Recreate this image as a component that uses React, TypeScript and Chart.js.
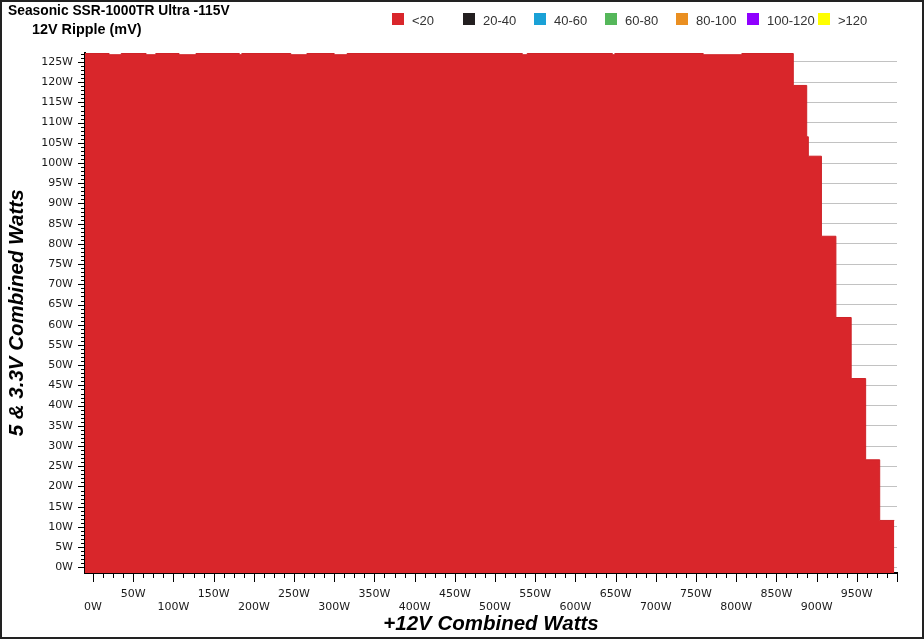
import React, { useEffect, useRef } from 'react';
import { Chart, registerables } from 'chart.js';

Chart.register(...registerables);

// +12V combined watts where each step of the 5 & 3.3V boundary begins
const WATTS_12V = [-10, 20, 35, 66, 78, 107, 128, 182, 185, 246, 266, 300, 316, 534, 540, 646, 649, 759, 807, 871, 887.7, 889.7, 906, 924, 943, 961, 978.5, 996.6];
// 5 & 3.3V combined watts (upper edge of the "<20 mV" region)
const WATTS_MINOR = [127.1, 126.8, 127.1, 126.8, 127.1, 126.8, 127.1, 126.8, 127.1, 126.8, 127.1, 126.8, 127.1, 126.8, 127.1, 126.8, 127.1, 126.8, 127.1, 119.2, 106.5, 101.7, 81.9, 61.8, 46.7, 26.6, 11.6, 11.6];

const LEGEND_LABELS = ['<20', '20-40', '40-60', '60-80', '80-100', '100-120', '>120'];
const LEGEND_COLORS = ['#d9262b', '#231f20', '#1aa1d6', '#55b75a', '#ea8f21', '#8f00ff', '#ffff00'];

const X_TICKS = [0, 50, 100, 150, 200, 250, 300, 350, 400, 450, 500, 550, 600, 650, 700, 750, 800, 850, 900, 950];
const X_RANGE = [-10, 1000];
const Y_RANGE = [-1.4, 127.3];

const TITLE = 'Seasonic SSR-1000TR Ultra -115V';
const SUBTITLE = '12V Ripple (mV)';

const SANS = '"Liberation Sans", Arial, sans-serif';
const TICK_FONT = '"DejaVu Sans", Verdana, sans-serif';

const frameAndTicks = {
  id: 'frameAndTicks',
  beforeDraw(chart: any) {
    const { ctx, width, height } = chart;
    ctx.save();
    ctx.fillStyle = '#ffffff';
    ctx.fillRect(0, 0, width, height);
    ctx.restore();
  },
  afterDraw(chart: any) {
    const { ctx, chartArea, scales, width, height } = chart;
    const xs = scales.x;
    const ys = scales.y;
    ctx.save();
    ctx.strokeStyle = '#000';
    ctx.lineWidth = 1;
    ctx.beginPath();
    for (let v = 0; v <= 1000.01; v += 12.5) {
      const px = Math.round(xs.getPixelForValue(v)) + 0.5;
      const major = Math.abs(v % 50) < 0.01;
      ctx.moveTo(px, chartArea.bottom);
      ctx.lineTo(px, chartArea.bottom + (major ? 9 : 5));
    }
    for (let v = 0; v <= 127; v++) {
      const py = Math.round(ys.getPixelForValue(v)) + 0.5;
      const major = v % 5 === 0;
      ctx.moveTo(chartArea.left - (major ? 7 : 4), py);
      ctx.lineTo(chartArea.left, py);
    }
    ctx.stroke();
    ctx.strokeStyle = '#222';
    ctx.lineWidth = 2;
    ctx.strokeRect(1, 1, width - 2, height - 2);
    ctx.restore();
  },
};

export default function App() {
  const canvasRef = useRef<HTMLCanvasElement | null>(null);

  useEffect(() => {
    const canvas = canvasRef.current;
    if (!canvas) return;
    const points = WATTS_12V.map((x, i) => ({ x, y: WATTS_MINOR[i] }));
    const chart = new Chart(canvas, {
      type: 'line',
      data: {
        datasets: [
          {
            label: LEGEND_LABELS[0],
            data: points,
            stepped: 'before',
            fill: 'start',
            backgroundColor: LEGEND_COLORS[0],
            borderColor: '#cf2227',
            borderWidth: 1,
            pointRadius: 0,
            pointHoverRadius: 0,
          },
        ],
      },
      options: {
        animation: false,
        responsive: false,
        devicePixelRatio: 1,
        events: [],
        layout: { padding: { top: 52.7, right: 27, bottom: 0, left: 0 } },
        plugins: {
          legend: { display: false },
          title: { display: false },
          tooltip: { enabled: false },
        },
        scales: {
          x: {
            type: 'linear',
            min: X_RANGE[0],
            max: X_RANGE[1],
            afterBuildTicks: (scale: any) => {
              scale.ticks = X_TICKS.map((v) => ({ value: v }));
            },
            afterFit: (scale: any) => {
              scale.height = 66;
            },
            grid: { display: false, drawTicks: false, tickLength: 0 },
            border: { display: true, color: '#000', width: 2 },
            ticks: {
              autoSkip: false,
              maxRotation: 0,
              minRotation: 0,
              padding: 14,
              color: '#1a1a1a',
              font: { family: TICK_FONT, size: 11, lineHeight: 1.21 },
              callback: (value: any) => {
                const v = Number(value);
                return v % 100 === 0 ? ['', v + 'W'] : [v + 'W', ''];
              },
            },
            title: {
              display: true,
              text: '+12V Combined Watts',
              color: '#000',
              font: { family: SANS, size: 20.5, weight: 'bold', style: 'italic', lineHeight: 1.2 },
              padding: { top: 0, bottom: 2.5 },
            },
          },
          y: {
            type: 'linear',
            min: Y_RANGE[0],
            max: Y_RANGE[1],
            afterBuildTicks: (scale: any) => {
              const t: any[] = [];
              for (let v = 0; v <= 127; v++) t.push({ value: v });
              scale.ticks = t;
            },
            afterFit: (scale: any) => {
              scale.width = 85;
            },
            grid: {
              display: true,
              drawTicks: false,
              tickLength: 0,
              lineWidth: 1,
              color: (ctx: any) =>
                ctx.tick && ctx.tick.value % 5 === 0 ? '#c2c2c2' : 'rgba(0,0,0,0)',
            },
            border: { display: true, color: '#000', width: 2 },
            ticks: {
              autoSkip: false,
              padding: 12,
              color: '#1a1a1a',
              font: { family: TICK_FONT, size: 11 },
              callback: (value: any) => {
                const v = Number(value);
                return v % 5 === 0 ? v + 'W' : '';
              },
            },
            title: {
              display: true,
              text: '5 & 3.3V Combined Watts',
              color: '#000',
              font: { family: SANS, size: 20.5, weight: 'bold', style: 'italic', lineHeight: 1.2 },
              padding: { top: 5, bottom: 0 },
            },
          },
        },
      },
      plugins: [frameAndTicks],
    } as any);
    return () => chart.destroy();
  }, []);

  return (
    <div style={{ position: 'absolute', left: 0, top: 0, width: 924, height: 639, overflow: 'hidden' }}>
      <canvas ref={canvasRef} width={924} height={639} style={{ display: 'block', width: 924, height: 639 }} />
      <div
        style={{
          position: 'absolute', left: 8, top: 1.5, font: `bold 13.8px ${SANS}`, lineHeight: '17px',
          color: '#000', whiteSpace: 'nowrap',
        }}
      >
        {TITLE}
      </div>
      <div
        style={{
          position: 'absolute', left: 32, top: 20.5, font: `bold 14.4px ${SANS}`, lineHeight: '17px',
          color: '#000', whiteSpace: 'nowrap',
        }}
      >
        {SUBTITLE}
      </div>
      {LEGEND_LABELS.map((label, i) => (
        <div key={label} style={{ position: 'absolute', left: 392 + i * 71, top: 13, height: 15 }}>
          <span
            style={{
              position: 'absolute', left: 0, top: 0.3, width: 12, height: 12,
              background: LEGEND_COLORS[i],
            }}
          />
          <span
            style={{
              position: 'absolute', left: 20, top: 0, font: `13px ${SANS}`, lineHeight: '15px',
              color: '#333', whiteSpace: 'nowrap',
            }}
          >
            {label}
          </span>
        </div>
      ))}
    </div>
  );
}
